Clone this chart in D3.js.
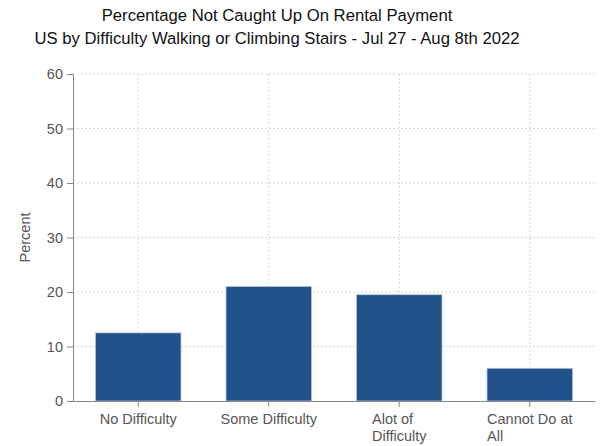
<!DOCTYPE html>
<html>
<head>
<meta charset="utf-8">
<script src="https://cdn.jsdelivr.net/npm/d3@7"></script>
<style>
  body { margin: 0; background: #fff; }
  svg { display: block; font-family: "Liberation Sans", Arial, sans-serif; }
</style>
</head>
<body>
<svg id="chart" width="600" height="446"></svg>
<script>
const titleLines = ["Percentage Not Caught Up On Rental Payment",
                    "US by Difficulty Walking or Climbing Stairs - Jul 27 - Aug 8th 2022"];
const categories = ["No Difficulty", "Some Difficulty", "Alot of Difficulty", "Cannot Do at All"];
const categoryLabelLines = [["No Difficulty"], ["Some Difficulty"], ["Alot of", "Difficulty"], ["Cannot Do at", "All"]];
const values = [12.5, 21.0, 19.5, 6.0];
const yTicks = [0, 10, 20, 30, 40, 50, 60];
const yLabel = "Percent";

const svg = d3.select("#chart");
const margin = {left: 73, right: 5, top: 74, bottom: 45};
const W = 600, H = 446;
const FS = 14.5;
const x = d3.scaleBand().domain(categories)
  .range([margin.left, W - margin.right])
  .paddingInner(0.345).paddingOuter(0.1725);
const y = d3.scaleLinear().domain([0, 60]).range([H - margin.bottom, margin.top]);

// titles
svg.append("g").selectAll("text").data(titleLines).join("text")
  .attr("x", 277).attr("y", (d, i) => 21 + i * 22.5)
  .attr("text-anchor", "middle").attr("font-size", 16.7).attr("fill", "#111")
  .text(d => d);

// gridlines
const grid = svg.append("g");
grid.selectAll("line.h").data(yTicks.slice(1)).join("line").attr("class", "h")
  .attr("x1", margin.left).attr("x2", W - margin.right)
  .attr("y1", d => y(d)).attr("y2", d => y(d))
  .attr("stroke", "#d8d8d8").attr("stroke-dasharray", "2,2");
grid.selectAll("line.v").data(categories).join("line").attr("class", "v")
  .attr("x1", d => x(d) + x.bandwidth() / 2).attr("x2", d => x(d) + x.bandwidth() / 2)
  .attr("y1", y(60)).attr("y2", y(0))
  .attr("stroke", "#d8d8d8").attr("stroke-dasharray", "2,2");

// bars
svg.append("g").selectAll("rect").data(values).join("rect")
  .attr("x", (d, i) => x(categories[i]))
  .attr("width", x.bandwidth())
  .attr("y", d => y(d))
  .attr("height", d => y(0) - y(d))
  .attr("fill", "#21528a")
  .attr("stroke", "#b4c4d8").attr("stroke-width", 0.8);

// y axis
const yAxis = svg.append("g").attr("transform", `translate(${margin.left},0)`)
  .call(d3.axisLeft(y).tickValues(yTicks).tickSize(6).tickPadding(4));
yAxis.select(".domain").attr("stroke", "#888");
yAxis.selectAll(".tick line").attr("stroke", "#888");
yAxis.selectAll(".tick text").attr("fill", "#555").attr("font-size", FS)
  .attr("font-family", "Liberation Sans, Arial, sans-serif");

// x axis
const xAxis = svg.append("g").attr("transform", `translate(0,${y(0)})`)
  .call(d3.axisBottom(x).tickSize(6).tickPadding(7).tickSizeOuter(0));
xAxis.select(".domain").attr("stroke", "#888");
xAxis.selectAll(".tick line").attr("stroke", "#888");
xAxis.selectAll(".tick text").attr("fill", "#555").attr("font-size", FS)
  .attr("font-family", "Liberation Sans, Arial, sans-serif");

// multi-line x labels (left-aligned block, centered on tick)
xAxis.selectAll(".tick text").each(function(d) {
  const t = d3.select(this);
  const lines = categoryLabelLines[categories.indexOf(d)];
  if (lines.length === 1) { t.text(lines[0]); return; }
  t.text(null);
  let widest = 0;
  lines.forEach(l => { const s = t.append("tspan").text(l); widest = Math.max(widest, s.node().getComputedTextLength()); s.remove(); });
  t.attr("text-anchor", "start");
  lines.forEach((l, i) => {
    t.append("tspan").attr("x", -widest / 2).attr("dy", i === 0 ? "0.71em" : "1.17em").text(l);
  });
  t.attr("dy", null);
});

// y label
svg.append("text")
  .attr("transform", `translate(30,${(y(0) + y(60)) / 2}) rotate(-90)`)
  .attr("text-anchor", "middle").attr("font-size", FS).attr("fill", "#555")
  .text(yLabel);
</script>
</body>
</html>
